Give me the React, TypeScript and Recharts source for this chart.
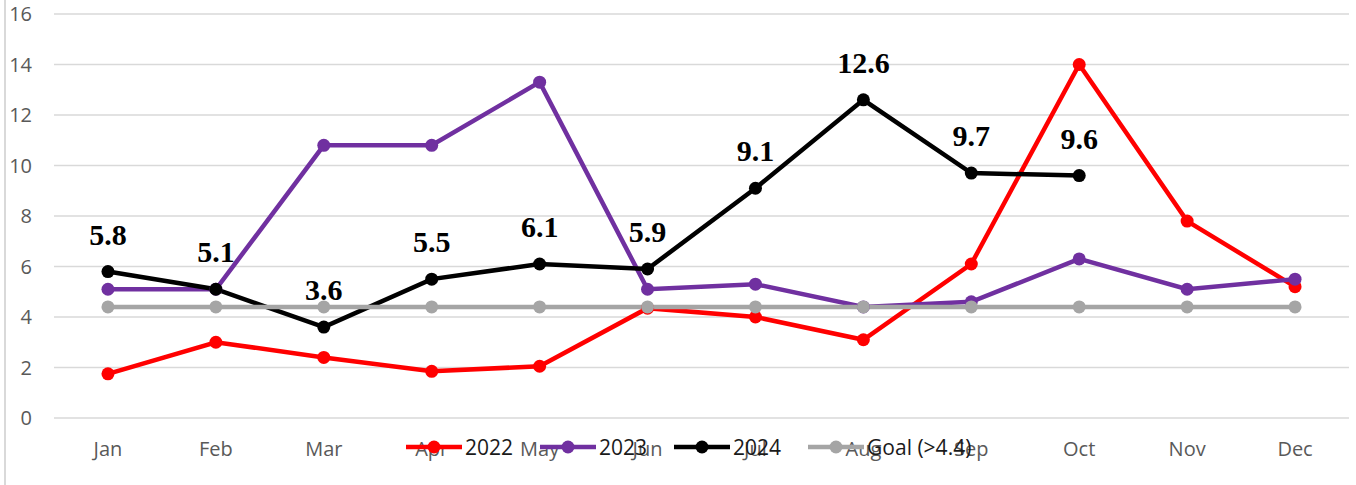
import React from 'react';
import {
  LineChart,
  Line,
  XAxis,
  YAxis,
  CartesianGrid,
  LabelList,
} from 'recharts';

const months = ['Jan', 'Feb', 'Mar', 'Apr', 'May', 'Jun', 'Jul', 'Aug', 'Sep', 'Oct', 'Nov', 'Dec'];
const s2022 = [1.75, 3.0, 2.4, 1.85, 2.05, 4.35, 4.0, 3.1, 6.1, 14.0, 7.8, 5.2];
const s2023 = [5.1, 5.1, 10.8, 10.8, 13.3, 5.1, 5.3, 4.4, 4.6, 6.3, 5.1, 5.5];
const s2024 = [5.8, 5.1, 3.6, 5.5, 6.1, 5.9, 9.1, 12.6, 9.7, 9.6, null, null];
const goal = [4.4, 4.4, 4.4, 4.4, 4.4, 4.4, 4.4, 4.4, 4.4, 4.4, 4.4, 4.4];
const yTicks = [0, 2, 4, 6, 8, 10, 12, 14, 16];

const data = months.map((m, i) => ({
  month: m,
  y2022: s2022[i],
  y2023: s2023[i],
  y2024: s2024[i],
  goal: goal[i],
}));

const series = [
  { key: 'y2022', name: '2022', color: '#ff0000' },
  { key: 'y2023', name: '2023', color: '#7030a0' },
  { key: 'y2024', name: '2024', color: '#000000' },
  { key: 'goal', name: 'Goal (>4.4)', color: '#a5a5a5' },
];

const axisFont = { fontFamily: '"Open Sans", sans-serif', fontSize: 20, fill: '#595959' };

// legend sits over the month labels, like the original
function ChartLegend() {
  return (
    <div
      style={{
        position: 'absolute',
        left: 406,
        top: 437,
        display: 'flex',
        alignItems: 'center',
        fontFamily: '"Open Sans", sans-serif',
        fontSize: 21,
        color: '#1a1a1a',
      }}
    >
      {series.map((s) => (
        <div key={s.key} style={{ display: 'flex', alignItems: 'center', marginRight: 27 }}>
          <svg width={56} height={20}>
            <line x1={0} y1={10} x2={56} y2={10} stroke={s.color} strokeWidth={4.5} />
            <circle cx={28} cy={10} r={6.5} fill={s.color} />
          </svg>
          <span style={{ marginLeft: 3, lineHeight: '20px', whiteSpace: 'nowrap' }}>{s.name}</span>
        </div>
      ))}
    </div>
  );
}

export default function App() {
  return (
    <div style={{ position: 'absolute', left: 0, top: 0, width: 1356, height: 485, background: '#fff' }}>
      <div style={{ position: 'absolute', left: 4, top: 0, width: 2, height: 485, background: '#d9d9d9' }} />
      <LineChart
        width={1356}
        height={485}
        data={data}
        margin={{ top: 14, right: 7, left: 0, bottom: 0 }}
      >
        <CartesianGrid vertical={false} stroke="#d9d9d9" strokeWidth={1.5} />
        <XAxis
          dataKey="month"
          scale="band"
          height={67}
          axisLine={false}
          tickLine={false}
          tickSize={0}
          tickMargin={24}
          tick={axisFont}
          interval={0}
        />
        <YAxis
          width={54}
          domain={[0, 16]}
          ticks={yTicks}
          axisLine={false}
          tickLine={false}
          tickSize={0}
          tickMargin={22}
          tick={axisFont}
          interval={0}
        />
        {series.map((s) => (
          <Line
            key={s.key}
            type="linear"
            dataKey={s.key}
            name={s.name}
            stroke={s.color}
            strokeWidth={4.5}
            dot={{ r: 6.5, fill: s.color, stroke: 'none' }}
            activeDot={false}
            isAnimationActive={false}
          >
            {s.key === 'y2024' && (
              <LabelList
                dataKey="y2024"
                position="top"
                offset={27}
                style={{
                  fontFamily: '"Liberation Serif", "Times New Roman", serif',
                  fontWeight: 'bold',
                  fontSize: 30,
                  fill: '#000',
                }}
              />
            )}
          </Line>
        ))}
      </LineChart>
      <ChartLegend />
    </div>
  );
}
